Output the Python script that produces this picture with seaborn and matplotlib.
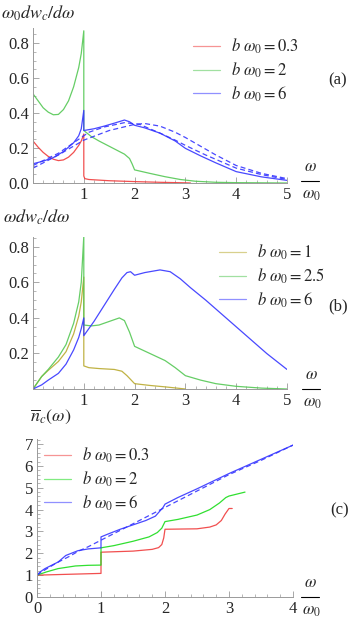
import numpy as np
import pandas as pd
import seaborn as sns
import matplotlib
matplotlib.use("Agg")
import matplotlib.pyplot as plt
from matplotlib.lines import Line2D
from matplotlib.ticker import MultipleLocator

# ---- panel (a): omega0 dw_c/domega ----
a_red_x = [0, 0.1, 0.2, 0.3, 0.4, 0.5, 0.6, 0.7, 0.8, 0.9, 0.95, 1.0, 1.0, 1.02, 1.1, 1.5, 2.0, 2.5, 3.0, 3.1]
a_red_y = [0.24, 0.205, 0.175, 0.152, 0.136, 0.128, 0.132, 0.148, 0.175, 0.215, 0.24, 0.28, 0.04, 0.025, 0.02, 0.013, 0.008, 0.004, 0.001, 0.0]

a_green_x = [0, 0.1, 0.2, 0.3, 0.4, 0.5, 0.6, 0.7, 0.8, 0.9, 0.95, 1.0, 1.0, 1.15, 1.3, 1.5, 1.7, 1.8, 1.9, 1.95, 2.0, 2.3, 2.6, 2.9, 3.2, 3.6, 4.0, 5.0]
a_green_y = [0.51, 0.47, 0.43, 0.405, 0.39, 0.392, 0.42, 0.47, 0.55, 0.66, 0.74, 0.87, 0.30, 0.265, 0.24, 0.21, 0.18, 0.165, 0.14, 0.11, 0.075, 0.055, 0.036, 0.02, 0.01, 0.004, 0.002, 0.0]

a_blue_x = [0, 0.2, 0.4, 0.6, 0.8, 0.9, 0.95, 1.0, 1.0, 1.2, 1.4, 1.6, 1.8, 1.9, 2.0, 2.2, 2.5, 2.8, 3.0, 3.3, 3.6, 4.0, 4.5, 5.0]
a_blue_y = [0.11, 0.125, 0.145, 0.18, 0.23, 0.27, 0.31, 0.415, 0.30, 0.31, 0.325, 0.342, 0.36, 0.35, 0.33, 0.315, 0.285, 0.24, 0.198, 0.155, 0.115, 0.065, 0.035, 0.015]

a_blue_d1_x = [0, 0.5, 1.0, 1.5, 2.0, 2.2, 2.5, 2.8, 3.0, 3.3, 3.6, 4.0, 4.5, 5.0]
a_blue_d1_y = [0.085, 0.16, 0.245, 0.30, 0.335, 0.34, 0.325, 0.29, 0.26, 0.21, 0.16, 0.10, 0.055, 0.025]
a_blue_d2_x = [0, 0.5, 0.9, 1.1, 1.4, 1.8, 2.1, 2.5, 2.8, 3.0, 3.4, 4.0, 4.5, 5.0]
a_blue_d2_y = [0.10, 0.17, 0.25, 0.29, 0.32, 0.345, 0.335, 0.285, 0.245, 0.215, 0.16, 0.085, 0.048, 0.02]

# ---- panel (b): omega dw_c/domega ----
b_olive_x = [0, 0.17, 0.3, 0.5, 0.65, 0.8, 0.9, 0.95, 1.0, 1.0, 1.1, 1.3, 1.6, 1.75, 1.85, 1.95, 2.0, 2.3, 2.6, 3.0]
b_olive_y = [0.0, 0.07, 0.105, 0.155, 0.21, 0.31, 0.41, 0.49, 0.63, 0.13, 0.12, 0.115, 0.11, 0.1, 0.075, 0.045, 0.03, 0.02, 0.012, 0.0]

b_green_x = [0, 0.17, 0.3, 0.5, 0.65, 0.8, 0.9, 0.95, 1.0, 1.0, 1.15, 1.3, 1.5, 1.7, 1.8, 1.9, 2.0, 2.3, 2.6, 2.8, 3.0, 3.3, 3.6, 4.0, 4.5, 5.0]
b_green_y = [0.0, 0.07, 0.11, 0.18, 0.25, 0.37, 0.49, 0.6, 0.86, 0.36, 0.355, 0.36, 0.38, 0.40, 0.385, 0.32, 0.24, 0.2, 0.16, 0.12, 0.075, 0.05, 0.03, 0.015, 0.005, 0.0]

b_blue_x = [0, 0.17, 0.3, 0.5, 0.65, 0.8, 0.9, 0.95, 1.0, 1.0, 1.2, 1.4, 1.6, 1.75, 1.85, 1.92, 2.0, 2.2, 2.5, 2.7, 2.9, 3.1, 3.4, 3.8, 4.2, 4.6, 5.0]
b_blue_y = [0.0, 0.023, 0.05, 0.088, 0.14, 0.22, 0.29, 0.34, 0.40, 0.30, 0.38, 0.47, 0.56, 0.625, 0.655, 0.66, 0.64, 0.655, 0.67, 0.66, 0.62, 0.57, 0.5, 0.4, 0.3, 0.2, 0.11]

# ---- panel (c): mean n_c(omega) ----
c_red_x = [0, 0.5, 1.0, 1.0, 1.5, 1.8, 1.9, 1.95, 1.98, 2.0, 2.5, 2.7, 2.8, 2.88, 2.94, 3.0, 3.05]
c_red_y = [1.0, 1.04, 1.08, 2.05, 2.1, 2.18, 2.26, 2.4, 2.7, 3.1, 3.12, 3.2, 3.3, 3.5, 3.8, 4.05, 4.05]

c_green_x = [0, 0.15, 0.33, 0.6, 0.8, 1.0, 1.0, 1.2, 1.5, 1.75, 1.88, 1.95, 2.0, 2.2, 2.5, 2.7, 2.85, 2.95, 3.0, 3.25]
c_green_y = [1.0, 1.15, 1.3, 1.42, 1.45, 1.46, 2.25, 2.35, 2.55, 2.75, 2.95, 3.15, 3.45, 3.55, 3.75, 4.0, 4.3, 4.55, 4.62, 4.8]

c_blue_x = [0, 0.05, 0.125, 0.33, 0.45, 0.64, 0.8, 1.0, 1.0, 1.1, 1.3, 1.5, 1.7, 1.85, 1.97, 2.0, 2.2, 2.5, 3.0, 3.5, 4.0]
c_blue_y = [1.0, 1.15, 1.3, 1.6, 1.9, 2.12, 2.2, 2.25, 2.75, 2.87, 3.1, 3.3, 3.5, 3.7, 4.1, 4.25, 4.55, 4.95, 5.65, 6.3, 6.95]

c_blue_d_x = [0, 0.1, 0.3, 0.5, 0.65, 0.8, 1.0, 1.5, 2.0, 2.5, 3.0, 3.5, 4.0]
c_blue_d_y = [1.0, 1.2, 1.55, 1.85, 2.1, 2.3, 2.6, 3.35, 4.1, 4.85, 5.6, 6.25, 6.95]

legend_a = [r"$b\ \omega_0 = 0.3$", r"$b\ \omega_0 = 2$", r"$b\ \omega_0 = 6$"]
legend_b = [r"$b\ \omega_0 = 1$", r"$b\ \omega_0 = 2.5$", r"$b\ \omega_0 = 6$"]

RED = "#F03C3C"
GREEN = "#55C855"
BLUE = "#3535FF"
OLIVE = "#B9AA30"
GREEN_C = "#1ADC1A"
AXC = "#9a9a9a"
SERIF = ["Liberation Serif", "DejaVu Serif"]

sns.set_style("ticks")
plt.rcParams["font.family"] = SERIF
plt.rcParams["mathtext.fontset"] = "stix"

W, H = 354, 620
fig = plt.figure(figsize=(W / 100, H / 100), dpi=100)


def rect(left, right, top, bottom):
    return [left / W, 1 - bottom / H, (right - left) / W, (bottom - top) / H]


def line(ax, x, y, color, dashed=False):
    sns.lineplot(x=x, y=y, ax=ax, color=color, lw=0.9, estimator=None, sort=False,
                 linestyle=(0, (4, 2.5)) if dashed else "-", alpha=0.9)


def style(ax, xlim, ylim, xmaj, xmin, ymaj, ymin):
    ax.set_xlim(*xlim)
    ax.set_ylim(*ylim)
    for s in ["top", "right"]:
        ax.spines[s].set_visible(False)
    for s in ["left", "bottom"]:
        ax.spines[s].set_color(AXC)
        ax.spines[s].set_linewidth(0.7)
    ax.xaxis.set_major_locator(MultipleLocator(xmaj))
    ax.xaxis.set_minor_locator(MultipleLocator(xmin))
    ax.yaxis.set_major_locator(MultipleLocator(ymaj))
    ax.yaxis.set_minor_locator(MultipleLocator(ymin))
    ax.tick_params(which="major", direction="in", length=4, width=0.6, color=AXC,
                   labelsize=12, pad=3, labelfontfamily="Liberation Serif")
    ax.tick_params(which="minor", direction="in", length=2, width=0.5, color=AXC)
    ax.set_xlabel("")
    ax.set_ylabel("")


def frac(xc, ybar):
    fig.text(xc / W, 1 - (ybar - 14) / H, r"$\omega$", ha="center", va="center", fontsize=12)
    fig.text((xc + 1) / W, 1 - (ybar + 14) / H, r"$\omega_0$", ha="center", va="center", fontsize=12)
    fig.add_artist(Line2D([(xc - 9) / W, (xc + 9) / W], [1 - ybar / H] * 2, color="black", lw=0.8))


def legend(ax, labels, colors, x0, y0):
    handles = [Line2D([0], [0], color=c, lw=0.9, alpha=0.55) for c in colors]
    ax.legend(handles, labels, loc="upper left", bbox_to_anchor=(x0 / W, 1 - y0 / H),
              bbox_transform=fig.transFigure, frameon=False, fontsize=12,
              handlelength=1.6, handletextpad=0.7, labelspacing=0.25, borderpad=0,
              borderaxespad=0)


# (a)
ax1 = fig.add_axes(rect(33, 287, 28, 183))
line(ax1, a_red_x, a_red_y, RED)
line(ax1, a_green_x, a_green_y, GREEN)
line(ax1, a_blue_x, a_blue_y, BLUE)
line(ax1, a_blue_d1_x, a_blue_d1_y, BLUE, dashed=True)
line(ax1, a_blue_d2_x, a_blue_d2_y, BLUE, dashed=True)
style(ax1, (0, 5), (0, 0.886), 1, 0.2, 0.2, 0.05)
ax1.set_xticks([1, 2, 3, 4, 5])
ax1.set_yticks([0, 0.2, 0.4, 0.6, 0.8])
ax1.set_yticklabels(["0.0", "0.2", "0.4", "0.6", "0.8"])
legend(ax1, legend_a, [RED, GREEN, BLUE], 193, 37)
fig.text(1 / W, 1 - 13 / H, r"$\omega_0 dw_c/d\omega$", ha="left", va="center", fontsize=13)
fig.text(338 / W, 1 - 80 / H, "(a)", ha="center", va="center", fontsize=12)
frac(310, 181)

# (b)
ax2 = fig.add_axes(rect(33, 287, 236.5, 389))
line(ax2, b_olive_x, b_olive_y, OLIVE)
line(ax2, b_green_x, b_green_y, GREEN)
line(ax2, b_blue_x, b_blue_y, BLUE)
style(ax2, (0, 5), (0, 0.858), 1, 0.2, 0.2, 0.05)
ax2.set_xticks([1, 2, 3, 4, 5])
ax2.set_yticks([0.2, 0.4, 0.6, 0.8])
ax2.set_yticklabels(["0.2", "0.4", "0.6", "0.8"])
legend(ax2, legend_b, [OLIVE, GREEN, BLUE], 219, 243)
fig.text(3 / W, 1 - 217 / H, r"$\omega dw_c/d\omega$", ha="left", va="center", fontsize=13)
fig.text(338 / W, 1 - 306 / H, "(b)", ha="center", va="center", fontsize=12)
frac(311, 389)

# (c)
ax3 = fig.add_axes(rect(37, 293, 439, 597))
line(ax3, c_red_x, c_red_y, RED)
line(ax3, c_green_x, c_green_y, GREEN_C)
line(ax3, c_blue_x, c_blue_y, BLUE)
line(ax3, c_blue_d_x, c_blue_d_y, BLUE, dashed=True)
style(ax3, (0, 4), (0, 7.23), 1, 0.2, 1, 0.2)
ax3.set_yticks(range(8))
legend(ax3, legend_a, [RED, GREEN_C, BLUE], 44, 446)
fig.text(30 / W, 1 - 417 / H, r"$\overline{n}_c(\omega)$", ha="left", va="center", fontsize=13)
fig.text(340 / W, 1 - 510 / H, "(c)", ha="center", va="center", fontsize=12)
frac(310, 597)

fig.savefig("out.png", dpi=100)
